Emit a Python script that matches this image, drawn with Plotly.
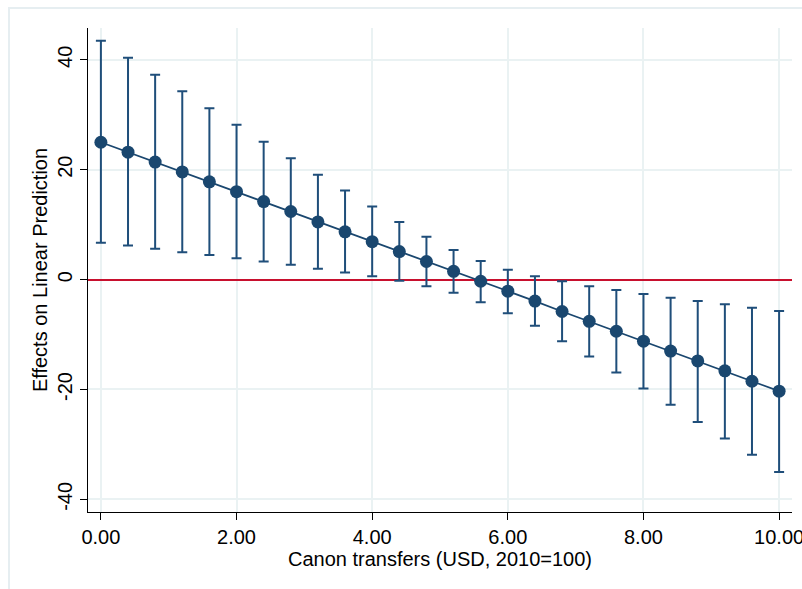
import plotly.graph_objects as go

x_vals = [0.0, 0.4, 0.8, 1.2, 1.6, 2.0, 2.4, 2.8, 3.2, 3.6, 4.0, 4.4, 4.8,
          5.2, 5.6, 6.0, 6.4, 6.8, 7.2, 7.6, 8.0, 8.4, 8.8, 9.2, 9.6, 10.0]
estimate = [25.0, 23.2, 21.4, 19.6, 17.8, 16.0, 14.2, 12.4, 10.5, 8.7, 6.9, 5.1, 3.3,
            1.5, -0.3, -2.1, -3.9, -5.8, -7.6, -9.4, -11.2, -13.0, -14.8, -16.6, -18.5, -20.3]
upper_ci = [43.5, 40.4, 37.3, 34.3, 31.2, 28.2, 25.1, 22.1, 19.1, 16.2, 13.3, 10.5, 7.8,
            5.4, 3.4, 1.8, 0.6, -0.3, -1.2, -1.9, -2.6, -3.3, -3.9, -4.5, -5.1, -5.7]
lower_ci = [6.7, 6.2, 5.6, 5.0, 4.5, 3.9, 3.3, 2.7, 2.0, 1.3, 0.6, -0.2, -1.2,
            -2.4, -4.1, -6.1, -8.4, -11.2, -14.0, -16.9, -19.8, -22.8, -25.9, -28.9, -31.9, -35.0]
x_ticks = [0, 2, 4, 6, 8, 10]
x_tick_labels = ["0.00", "2.00", "4.00", "6.00", "8.00", "10.00"]
y_ticks = [-40, -20, 0, 20, 40]
y_tick_labels = ["-40", "-20", "0", "20", "40"]

navy = "#1a476f"
grid = "#eaf2f3"

err_plus = [u - e for u, e in zip(upper_ci, estimate)]
err_minus = [e - l for e, l in zip(estimate, lower_ci)]

fig = go.Figure()
fig.add_trace(go.Scatter(
    x=x_vals, y=estimate, mode="lines+markers",
    line=dict(color=navy, width=1.8),
    marker=dict(color=navy, size=13, symbol="circle"),
    error_y=dict(type="data", symmetric=False, array=err_plus, arrayminus=err_minus,
                 color="#1f4e7a", thickness=2, width=5),
    showlegend=False, cliponaxis=False,
))

# outer frame
fig.add_shape(type="rect", xref="paper", yref="paper", x0=-0.1122, x1=1.03,
              y0=-0.2, y1=1.0413, line=dict(color="#e6eef1", width=2),
              fillcolor="rgba(0,0,0,0)", layer="below")

fig.update_layout(
    width=802, height=589,
    margin=dict(l=88, r=10, t=28, b=77),
    paper_bgcolor="white", plot_bgcolor="white",
    font=dict(family="Liberation Sans, Arial, sans-serif", size=20, color="black"),
)
fig.update_xaxes(
    range=[-0.19, 10.19], tickvals=x_ticks, ticktext=x_tick_labels,
    showgrid=True, gridcolor=grid, gridwidth=2, zeroline=False,
    showline=True, linecolor="black", linewidth=1.3,
    ticks="outside", ticklen=7, tickcolor="black", tickwidth=1.3,
    ticklabeloverflow="allow", automargin=False,
    title=dict(text="Canon transfers (USD, 2010=100)", standoff=0,
               font=dict(size=20)),
    tickfont=dict(size=20),
)
fig.update_yaxes(
    range=[-42.3, 45.8], tickvals=y_ticks, ticktext=y_tick_labels, tickangle=-90,
    showgrid=True, gridcolor=grid, gridwidth=2,
    zeroline=True, zerolinecolor="#c8102e", zerolinewidth=1.8,
    showline=True, linecolor="black", linewidth=1.3,
    ticks="outside", ticklen=7, tickcolor="black", tickwidth=1.3,
    ticklabeloverflow="allow", automargin=False,
    title=dict(text="Effects on Linear Prediction", standoff=0,
               font=dict(size=20)),
    tickfont=dict(size=20),
)

fig.write_html("out.html")
